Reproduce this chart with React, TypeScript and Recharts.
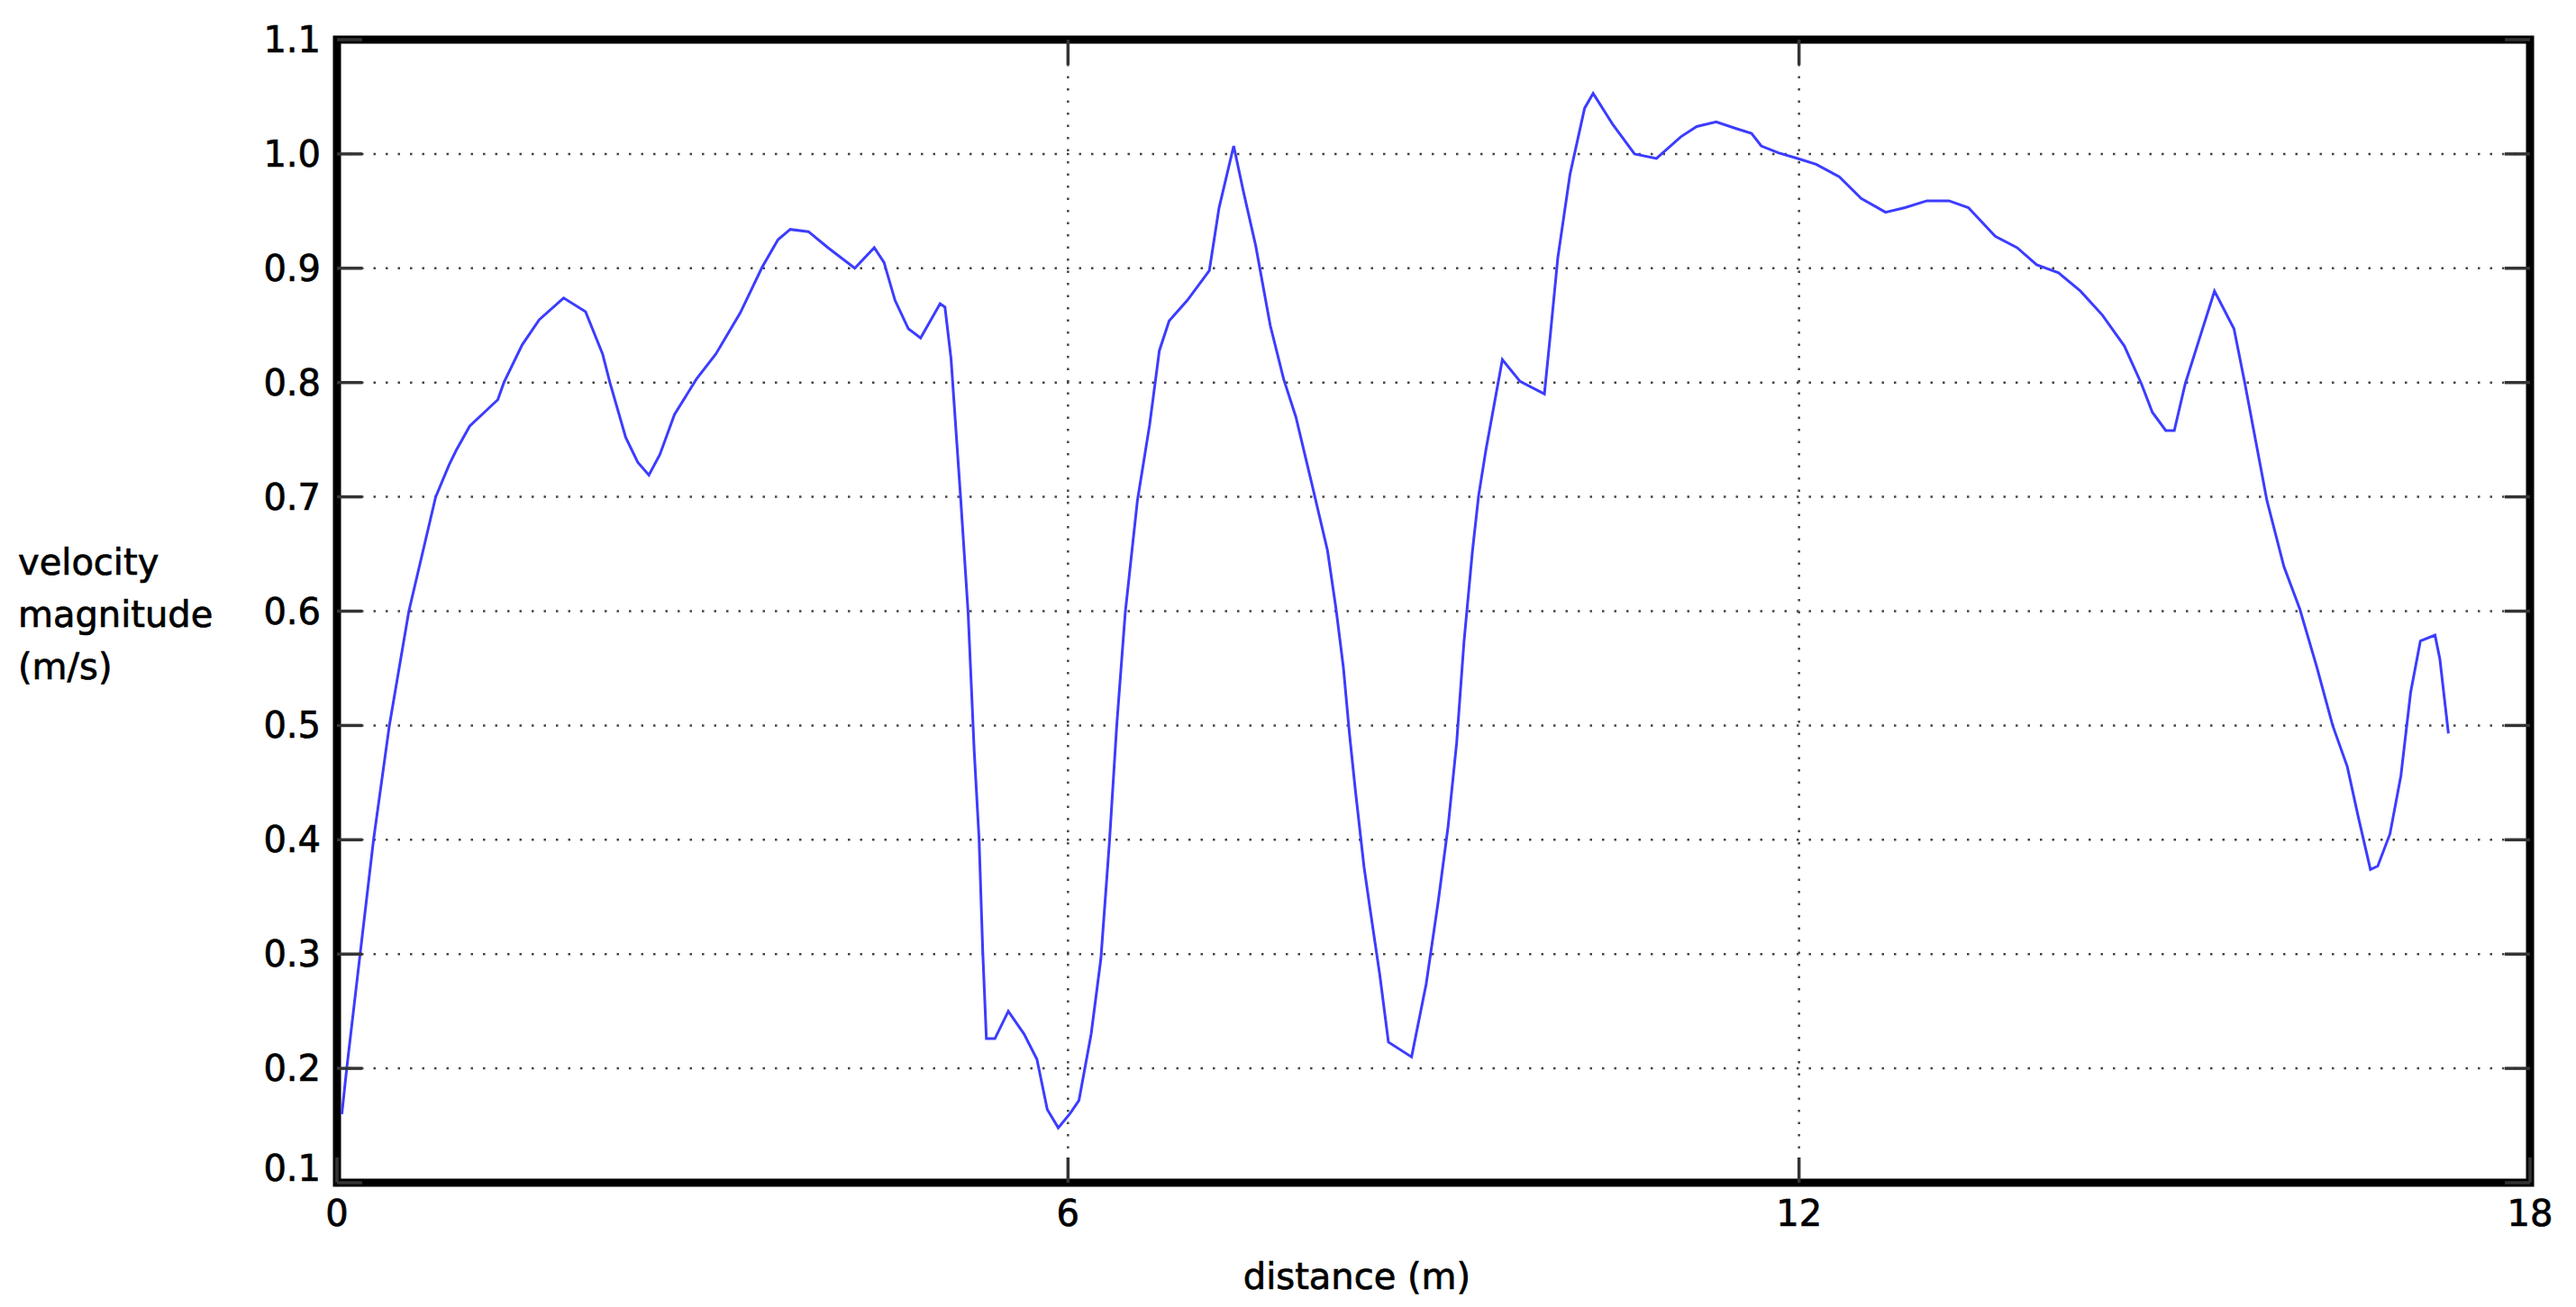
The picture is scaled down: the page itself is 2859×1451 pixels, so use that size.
import { LineChart, Line, XAxis, YAxis, CartesianGrid, ReferenceArea } from "recharts";

// distance along the transect (m)
const distance = [
  0.04, 0.08, 0.19, 0.3, 0.43, 0.59, 0.81, 0.92, 0.98, 1.09, 1.32, 1.37, 1.52, 1.66, 1.86, 2.04, 2.18,
  2.24, 2.37, 2.47, 2.56, 2.65, 2.77, 2.95, 3.11, 3.31, 3.49, 3.62, 3.72, 3.87, 4.03, 4.25, 4.41, 4.49,
  4.58, 4.69, 4.79, 4.87, 4.95, 4.99, 5.04, 5.12, 5.18, 5.23, 5.27, 5.3, 5.33, 5.4, 5.51, 5.64, 5.745,
  5.83, 5.92, 6.02, 6.09, 6.19, 6.27, 6.34, 6.4, 6.47, 6.57, 6.67, 6.75, 6.83, 6.98, 7.16, 7.24, 7.36,
  7.44, 7.54, 7.66, 7.77, 7.87, 8.0, 8.13, 8.2, 8.26, 8.31, 8.36, 8.43, 8.48, 8.56, 8.63, 8.82, 8.94,
  9.04, 9.12, 9.19, 9.25, 9.32, 9.37, 9.43, 9.565, 9.71, 9.91, 9.96, 10.02, 10.12, 10.24, 10.31, 10.47,
  10.65, 10.83, 11.03, 11.16, 11.32, 11.49, 11.61, 11.69, 11.83, 11.99, 12.14, 12.33, 12.51, 12.71,
  12.87, 13.05, 13.23, 13.39, 13.61, 13.79, 13.95, 14.13, 14.31, 14.49, 14.67, 14.81, 14.9, 15.01,
  15.08, 15.17, 15.3, 15.41, 15.57, 15.66, 15.75, 15.84, 15.98, 16.11, 16.25, 16.38, 16.5, 16.59,
  16.69, 16.75, 16.85, 16.94, 17.02, 17.1, 17.22, 17.26, 17.33,
];

// velocity magnitude (m/s)
const velocity = [
  0.16, 0.2, 0.3, 0.4, 0.5, 0.6, 0.7, 0.728, 0.741, 0.762, 0.785, 0.8, 0.833, 0.855, 0.874, 0.862, 0.825,
  0.8, 0.752, 0.73, 0.719, 0.737, 0.772, 0.803, 0.825, 0.861, 0.901, 0.925, 0.934, 0.932, 0.918, 0.9,
  0.918, 0.905, 0.872, 0.847, 0.839, 0.854, 0.869, 0.866, 0.821, 0.697, 0.599, 0.478, 0.401, 0.303,
  0.226, 0.226, 0.25, 0.23, 0.208, 0.164, 0.148, 0.161, 0.172, 0.23, 0.296, 0.398, 0.5, 0.599, 0.697,
  0.763, 0.828, 0.854, 0.872, 0.898, 0.953, 1.007, 0.967, 0.92, 0.85, 0.803, 0.77, 0.712, 0.653, 0.602,
  0.551, 0.493, 0.442, 0.376, 0.339, 0.281, 0.223, 0.21, 0.274, 0.347, 0.412, 0.485, 0.573, 0.653,
  0.701, 0.741, 0.82, 0.801, 0.79, 0.843, 0.909, 0.982, 1.04, 1.053, 1.026, 1.0, 0.996, 1.015, 1.024,
  1.028, 1.022, 1.018, 1.007, 1.001, 0.996, 0.991, 0.98, 0.961, 0.949, 0.953, 0.959, 0.959, 0.953,
  0.928, 0.918, 0.903, 0.896, 0.88, 0.859, 0.832, 0.799, 0.774, 0.758, 0.758, 0.799, 0.843, 0.88,
  0.847, 0.799, 0.748, 0.697, 0.639, 0.602, 0.551, 0.5, 0.464, 0.42, 0.374, 0.377, 0.405, 0.456, 0.529,
  0.574, 0.579, 0.558, 0.493,
];

const xTicks = [0, 6, 12, 18];
const yTicks = [0.1, 0.2, 0.3, 0.4, 0.5, 0.6, 0.7, 0.8, 0.9, 1.0, 1.1];
const yLabelLines = ["velocity", "magnitude", "(m/s)"];
const xLabel = "distance (m)";

const data = distance.map((d, i) => ({ d, v: velocity[i] }));

const FONT = "'DejaVu Sans', Verdana, sans-serif";
const TICK_LEN = 28;
const TICK_COLOR = "#333";
// a thin outline makes the regular face look a touch heavier, like the original
const textStyle = { fontSize: 40, fontFamily: FONT, fill: "#000", stroke: "#000", strokeWidth: 0.7 };

function LeftTick(props: any) {
  const { x, y, payload } = props;
  const lift = Math.abs(payload.value - 0.1) < 1e-6 ? -16 : 0;
  return (
    <g>
      <line x1={x} x2={x + TICK_LEN} y1={y} y2={y} stroke={TICK_COLOR} strokeWidth={3.5} />
      <text x={x - 18} y={y + lift} textAnchor="end" dominantBaseline="central" {...textStyle}>
        {payload.value.toFixed(1)}
      </text>
    </g>
  );
}

function RightTick(props: any) {
  const { x, y } = props;
  return <line x1={x} x2={x - TICK_LEN} y1={y} y2={y} stroke={TICK_COLOR} strokeWidth={3.5} />;
}

function TopTick(props: any) {
  const { x, y } = props;
  return <line x1={x} x2={x} y1={y} y2={y + TICK_LEN} stroke={TICK_COLOR} strokeWidth={3.5} />;
}

function BottomTick(props: any) {
  const { x, y, payload } = props;
  return (
    <g>
      <line x1={x} x2={x} y1={y} y2={y - TICK_LEN} stroke={TICK_COLOR} strokeWidth={3.5} />
      <text x={x} y={y + 48} textAnchor="middle" {...textStyle}>
        {payload.value}
      </text>
    </g>
  );
}

function YLabel(props: any) {
  const { viewBox } = props;
  const cy = viewBox.y + viewBox.height / 2;
  return (
    <text x={viewBox.x + 12} y={cy - 41} {...textStyle}>
      {yLabelLines.map((line, i) => (
        <tspan key={line} x={viewBox.x + 12} dy={i === 0 ? 0 : 58}>
          {line}
        </tspan>
      ))}
    </text>
  );
}

function XLabel(props: any) {
  const { viewBox } = props;
  const cx = viewBox.x + viewBox.width / 2 - 85;
  return (
    <text x={cx} y={viewBox.y + 118} textAnchor="middle" {...textStyle}>
      {xLabel}
    </text>
  );
}

export default function App() {
  return (
    <div style={{ width: 2843, height: 1435 }}>
      <LineChart width={2843} height={1435} data={data} margin={{ top: 0, right: 0, bottom: 0, left: 0 }}>
        <CartesianGrid
          stroke="#444"
          strokeWidth={2.5}
          strokeDasharray="2.5 11"
          verticalValues={xTicks}
          horizontalValues={yTicks}
        />
        <XAxis
          dataKey="d"
          type="number"
          domain={[0, 18]}
          ticks={xTicks}
          interval={0}
          height={130}
          axisLine={false}
          tickLine={false}
          tickSize={0}
          tickMargin={0}
          tick={BottomTick}
          label={{ content: XLabel }}
        />
        <XAxis
          xAxisId="top"
          orientation="top"
          dataKey="d"
          type="number"
          domain={[0, 18]}
          ticks={[6, 12]}
          interval={0}
          height={36}
          axisLine={false}
          tickLine={false}
          tickSize={0}
          tickMargin={0}
          tick={TopTick}
        />
        <YAxis
          dataKey="v"
          type="number"
          domain={[0.1, 1.1]}
          ticks={yTicks}
          interval={0}
          width={366}
          allowDataOverflow
          axisLine={false}
          tickLine={false}
          tickSize={0}
          tickMargin={0}
          tick={LeftTick}
          label={{ content: YLabel }}
        />
        <YAxis
          yAxisId="right"
          orientation="right"
          dataKey="v"
          type="number"
          domain={[0.1, 1.1]}
          ticks={yTicks}
          interval={0}
          width={43}
          allowDataOverflow
          axisLine={false}
          tickLine={false}
          tickSize={0}
          tickMargin={0}
          tick={RightTick}
        />
        <Line
          type="linear"
          dataKey="v"
          stroke="#3c3cff"
          strokeWidth={3}
          dot={false}
          activeDot={false}
          isAnimationActive={false}
        />
        <ReferenceArea x1={0} x2={18} y1={0.1} y2={1.1} fill="none" stroke="#000" strokeWidth={9} />
      </LineChart>
    </div>
  );
}
